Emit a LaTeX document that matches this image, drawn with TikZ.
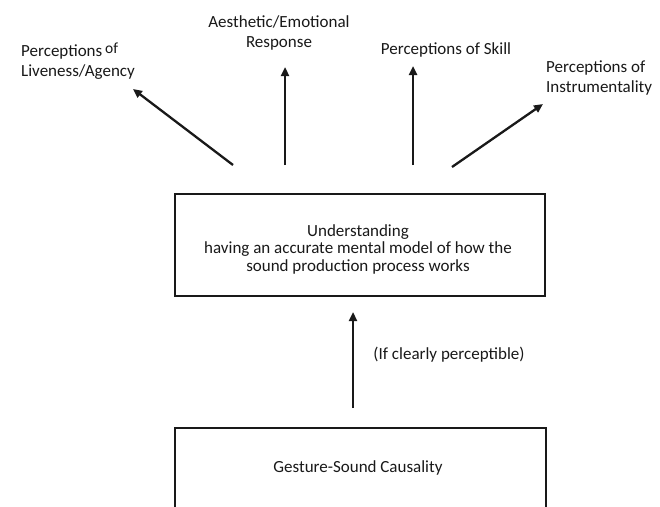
\documentclass[tikz,border=0pt]{standalone}
\usepackage{fontspec}
\setmainfont{Carlito}
\usetikzlibrary{arrows.meta}
\begin{document}
\begin{tikzpicture}[x=1pt,y=-1pt,
  lbl/.style={font=\fontsize{17}{20}\selectfont, inner sep=0pt, text=black!90},
  boxframe/.style={draw=black!90, line width=2.4pt},
  arr/.style={line width=2.3pt, draw=black!90,
    -{Triangle[length=9pt,width=8pt]}}]
  \useasboundingbox (0,0) rectangle (660,506);
  \fill[white] (0,0) rectangle (660,506);
  \clip (0,0) rectangle (660,506);

  % outcome labels along the top
  \node[lbl, anchor=west, align=left] (live) at (21,61)
    {Perceptions\,\raisebox{3.5pt}{\fontsize{15.5}{15.5}\selectfont of}\\Liveness/Agency};
  \node[lbl, align=center] (aest) at (279,33) {Aesthetic/Emotional\\Response};
  \node[lbl] (skill) at (446,50) {Perceptions of Skill};
  \node[lbl, anchor=west, align=left] (instr) at (546,78) {Perceptions of\\Instrumentality};

  % understanding box
  \node[boxframe, minimum width=370, minimum height=102, inner sep=0pt] (und) at (360,245) {};
  \node[lbl, align=center, font=\fontsize{17}{17.5}\selectfont] (undtext) at (358,249)
    {Understanding\\having an accurate mental model of how the\\sound production process works};

  % causality box (runs off the bottom edge)
  \node[boxframe, minimum width=371, minimum height=110, inner sep=0pt, anchor=north] (gsc) at (360.5,427) {};
  \node[lbl] (gsctext) at (358,468) {Gesture-Sound Causality};

  % arrow end points
  \coordinate (s1) at (233,165);  \coordinate (t1) at (133,89);
  \coordinate (s2) at (285,165);  \coordinate (t2) at (285,67);
  \coordinate (s3) at (413,165);  \coordinate (t3) at (413,66);
  \coordinate (s4) at (452,167);  \coordinate (t4) at (543,104);
  \coordinate (s5) at (353,408);  \coordinate (t5) at (353,312);

  \draw[arr] (s1) -- (t1);
  \draw[arr] (s2) -- (t2);
  \draw[arr] (s3) -- (t3);
  \draw[arr] (s4) -- (t4);
  \draw[arr] (s5) -- (t5);

  \node[lbl] (cond) at (449,355) {(If clearly perceptible)};
\end{tikzpicture}
\end{document}
